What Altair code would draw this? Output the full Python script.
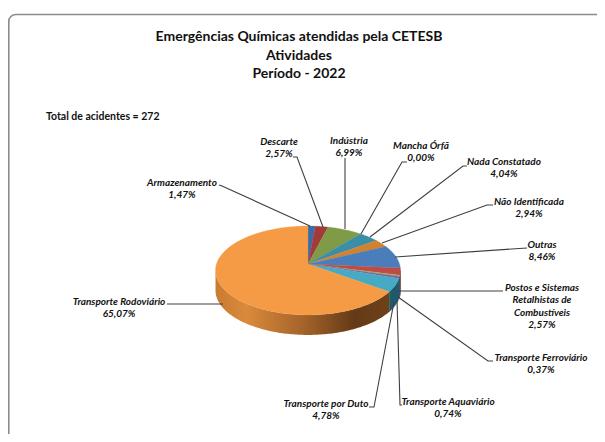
import math
import altair as alt
import pandas as pd

categories = ["Armazenamento", "Descarte", "Indústria", "Mancha Órfã", "Nada Constatado",
              "Não Identificada", "Outras", "Postos e Sistemas Retalhistas de Combustíveis",
              "Transporte Ferroviário", "Transporte Aquaviário", "Transporte por Duto",
              "Transporte Rodoviário"]
shares = [1.47, 2.57, 6.99, 0.00, 4.04, 2.94, 8.46, 2.57, 0.37, 0.74, 4.78, 65.07]
top_colors = ["#3b6ca6", "#a33a3a", "#7f9b48", "#3a8aa3", "#3a8ea8", "#d4812f", "#4a7ebb",
              "#be4b48", "#98b954", "#7d5fa0", "#46aac5", "#f59a45"]
wall_colors = ["#25436a", "#652424", "#4f602d", "#245666", "#245666", "#84501d", "#2e4e74",
               "#762f2d", "#5f7334", "#4e3b63", "#1f5a6c", "#000000"]
label_lines = [["Armazenamento", "1,47%"], ["Descarte", "2,57%"], ["Indústria", "6,99%"],
               ["Mancha Órfã", "0,00%"], ["Nada Constatado", "4,04%"],
               ["Não Identificada", "2,94%"], ["Outras", "8,46%"],
               ["Postos e Sistemas", "Retalhistas de", "Combustíveis", "2,57%"],
               ["Transporte Ferroviário", "0,37%"], ["Transporte Aquaviário", "0,74%"],
               ["Transporte por Duto", "4,78%"], ["Transporte Rodoviário", "65,07%"]]
title_lines = ["Emergências Químicas atendidas pela CETESB", "Atividades", "Período - 2022"]
total_text = "Total de acidentes = 272"

# layout (page pixels)
W, H = 589, 426
label_x = [182, 279, 349, 421, 504, 529, 542, 542, 541, 448, 326, 119]
label_y = [183, 142, 141, 146, 162, 202, 245, 288, 358, 402, 404, 302]
leaders = [[(219, 185), (222, 186), (310, 226)],
           [(293, 157), (297, 157), (323, 227)],
           [(345, 158), (345, 229)],
           [(407, 162), (402, 162), (361, 234)],
           [(467, 166), (463, 166), (370, 237)],
           [(493, 205), (487, 205), (382, 243)],
           [(527, 248), (395, 257)],
           [(503, 291), (398, 291)],
           [(493, 361), (488, 361), (398, 297)],
           [(402, 405), (400, 405), (397, 300)],
           [(369, 407), (374, 407), (394, 302)],
           [(167, 304), (223, 304)]]
CX, CY, A, B, K, DEPTH = 308.0, 264.0, 91.5, 43.5, 0.146, 20.0


def rim(theta, drop=0.0):
    t = math.radians(theta)
    u, v = math.sin(t), math.cos(t)
    w = 1 + K * v
    return CX + A * u / w, CY - B * v / w + drop


def arc_angles(a, b):
    out = [a]
    x = math.floor(a) + 1
    while x < b:
        out.append(float(x))
        x += 1
    out.append(b)
    return out


xs = alt.Scale(domain=[8, 8 + W], range=[0, W], nice=False, zero=False)
ys = alt.Scale(domain=[8, 8 + H], range=[0, H], nice=False, zero=False)
X = alt.X("x:Q", scale=xs, axis=None)
Y = alt.Y("y:Q", scale=ys, axis=None)
layers = []

# frame
frame = pd.DataFrame({"x": [8.8], "x2": [620], "y": [14.5], "y2": [470]})
layers.append(alt.Chart(frame).mark_rect(fill="white", stroke="#8c8c8c", strokeWidth=1.6,
                                         cornerRadius=7, clip=True).encode(
    x=X, x2="x2:Q", y=Y, y2="y2:Q"))


def poly(points, **mark):
    df = pd.DataFrame({"x": [p[0] for p in points], "y": [p[1] for p in points],
                       "i": range(len(points))})
    return alt.Chart(df).mark_line(interpolate="linear", **mark).encode(
        x=X, y=Y, order=alt.Order("i:Q"))


# cumulative angles
edges = [0.0]
for s in shares:
    edges.append(edges[-1] + s * 3.6)
edges[-1] = 360.0

wall_gradient = alt.LinearGradient(
    gradient="linear", x1=0, x2=1, y1=0, y2=0,
    stops=[alt.GradientStop(offset=0, color="#c87c32"),
           alt.GradientStop(offset=0.18, color="#d98a3c"),
           alt.GradientStop(offset=0.5, color="#a5642a"),
           alt.GradientStop(offset=0.8, color="#643a17"),
           alt.GradientStop(offset=1, color="#6e4219")])

VIS_A, VIS_B = 98.4, 261.6
for i, s in enumerate(shares):
    a, b = max(edges[i], VIS_A), min(edges[i + 1], VIS_B)
    if s == 0 or b <= a:
        continue
    ang = arc_angles(a, b)
    pts = [rim(t) for t in ang] + [rim(t, DEPTH) for t in reversed(ang)]
    pts.append(pts[0])
    if categories[i] == "Transporte Rodoviário":
        layers.append(poly(pts, fill=wall_gradient, strokeWidth=0))
    else:
        layers.append(poly(pts, fill=wall_colors[i], stroke=wall_colors[i], strokeWidth=0.4))

for i, s in enumerate(shares):
    if s == 0:
        continue
    pts = [(CX, CY)] + [rim(t) for t in arc_angles(edges[i], edges[i + 1])] + [(CX, CY)]
    layers.append(poly(pts, fill=top_colors[i], stroke=top_colors[i], strokeWidth=0.3))

# leaders
for pts in leaders:
    layers.append(poly(pts, stroke="#3f3f3f", strokeWidth=1.1))

# labels
rows = []
for cx, cy, lines in zip(label_x, label_y, label_lines):
    for j, t in enumerate(lines):
        rows.append({"x": cx, "y": cy + j * 12.4, "t": t})
layers.append(alt.Chart(pd.DataFrame(rows)).mark_text(
    font="Lato", fontWeight="bold", fontStyle="italic", fontSize=10, color="#111111",
    align="center", baseline="middle").encode(x=X, y=Y, text="t:N"))

# title
trows = [{"x": 299, "y": yy, "t": t} for yy, t in zip([37, 55.5, 74], title_lines)]
layers.append(alt.Chart(pd.DataFrame(trows)).mark_text(
    font="Lato", fontWeight="bold", fontSize=14, color="#111111",
    align="center", baseline="middle").encode(x=X, y=Y, text="t:N"))
layers.append(alt.Chart(pd.DataFrame([{"x": 46, "y": 117, "t": total_text}])).mark_text(
    font="Lato", fontWeight="bold", fontSize=10.5, color="#111111",
    align="left", baseline="middle").encode(x=X, y=Y, text="t:N"))

chart = alt.layer(*layers).properties(
    width=W, height=H, padding=0, background="white",
    autosize=alt.AutoSizeParams(type="none")
).configure_view(stroke=None)
chart.save("out.html", embed_options={"renderer": "svg", "actions": False})
